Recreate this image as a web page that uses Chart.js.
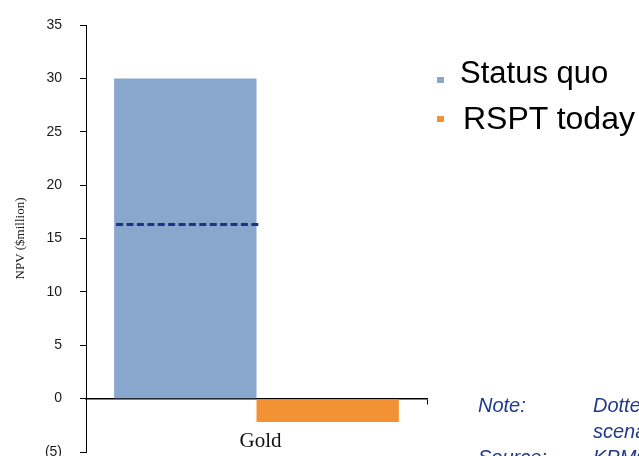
<!DOCTYPE html>
<html>
<head>
<meta charset="utf-8">
<script src="https://cdn.jsdelivr.net/npm/chart.js@4"></script>
<style>
  html, body { margin: 0; padding: 0; background: #fff; }
  body { width: 639px; height: 456px; overflow: hidden; position: relative; }
  #chart { position: absolute; left: 0; top: 0; }
  .legend-item { position: absolute; font-family: Arial, "Liberation Sans", sans-serif; color: #000; white-space: nowrap; line-height: 1; }
  .swatch { position: absolute; width: 7px; height: 6px; }
  .note { position: absolute; font-family: Arial, "Liberation Sans", sans-serif; font-style: italic; font-size: 20px; line-height: 26px; color: #1F3A8A; white-space: nowrap; }
</style>
</head>
<body>
<canvas id="chart" width="639" height="456"></canvas>

<div class="swatch" style="left:437px; top:77px; background:#89A6CC;"></div>
<div class="legend-item" style="left:460px; top:57px; font-size:31px;">Status quo</div>
<div class="swatch" style="left:437px; top:116px; background:#F39234;"></div>
<div class="legend-item" style="left:463px; top:102px; font-size:32px;">RSPT today</div>

<div class="note" style="left:478px; top:392px;">Note:<br><br>Source:</div>
<div class="note" style="left:593px; top:392px;">Dotted line shows the NPV under the<br>scenario<br>KPMG analysis</div>

<script>
// chart data
var categories = ["Gold"];
var statusQuo = [30.0];
var rsptToday = [-2.2];
var dottedValue = [16.3];
var yTicks = [-5, 0, 5, 10, 15, 20, 25, 30, 35];

var blue = '#89A6CC',
    orange = '#F39234',
    navy = '#1A3585';

// dashed reference line across the status quo bar
var dottedLine = {
    id: 'dottedLine',
    afterDatasetsDraw: function(chart) {
        var bar = chart.getDatasetMeta(0).data[0];
        var y = chart.scales.y.getPixelForValue(dottedValue[0]);
        var left = bar.x - bar.width / 2 + 2,
            right = bar.x + bar.width / 2 + 3;
        var ctx = chart.ctx;
        ctx.save();
        ctx.strokeStyle = navy;
        ctx.lineWidth = 3;
        ctx.setLineDash([7, 3.4]);
        ctx.beginPath();
        ctx.moveTo(left, y);
        ctx.lineTo(right, y);
        ctx.stroke();
        ctx.restore();
    }
};

var ctx = document.getElementById('chart').getContext('2d');

new Chart(ctx, {
    type: 'bar',
    data: {
        labels: categories,
        datasets: [{
            label: 'Status quo',
            data: statusQuo,
            backgroundColor: blue,
            categoryPercentage: 0.835,
            barPercentage: 1
        }, {
            label: 'RSPT today',
            data: rsptToday,
            backgroundColor: orange,
            categoryPercentage: 0.835,
            barPercentage: 1
        }]
    },
    options: {
        responsive: false,
        animation: false,
        layout: { padding: { top: 25, bottom: 4, left: 0, right: 212 } },
        plugins: {
            legend: { display: false },
            tooltip: { enabled: false }
        },
        scales: {
            x: {
                position: { y: 0 },
                afterFit: function(scale) {
                    scale.height = 0;
                    scale.paddingTop = 0;
                    scale.paddingBottom = 0;
                },
                grid: {
                    offset: true,
                    drawOnChartArea: false,
                    drawTicks: true,
                    tickLength: 5,
                    color: '#000'
                },
                border: { display: true, color: '#000', width: 1.5 },
                ticks: {
                    color: '#111',
                    padding: 25,
                    labelOffset: 4,
                    font: { family: '"Liberation Serif", "Times New Roman", serif', size: 21 }
                }
            },
            y: {
                min: -5,
                max: 35,
                afterBuildTicks: function(scale) {
                    scale.ticks = yTicks.map(function(v) { return { value: v }; });
                },
                afterFit: function(scale) {
                    scale.width = 86;
                    scale.paddingTop = 0;
                    scale.paddingBottom = 0;
                },
                grid: {
                    drawOnChartArea: false,
                    drawTicks: true,
                    tickLength: 6,
                    color: '#000'
                },
                border: { display: true, color: '#000', width: 1 },
                ticks: {
                    color: '#1a1a1a',
                    padding: 18,
                    font: { family: 'Arial, "Liberation Sans", sans-serif', size: 14 },
                    callback: function(v) { return v < 0 ? '(' + Math.abs(v) + ')' : v; }
                },
                title: {
                    display: true,
                    text: 'NPV ($million)',
                    color: '#222',
                    padding: { top: 13, bottom: 0 },
                    font: { family: '"Liberation Serif", "Times New Roman", serif', size: 13 }
                }
            }
        }
    },
    plugins: [dottedLine]
});
</script>
</body>
</html>
